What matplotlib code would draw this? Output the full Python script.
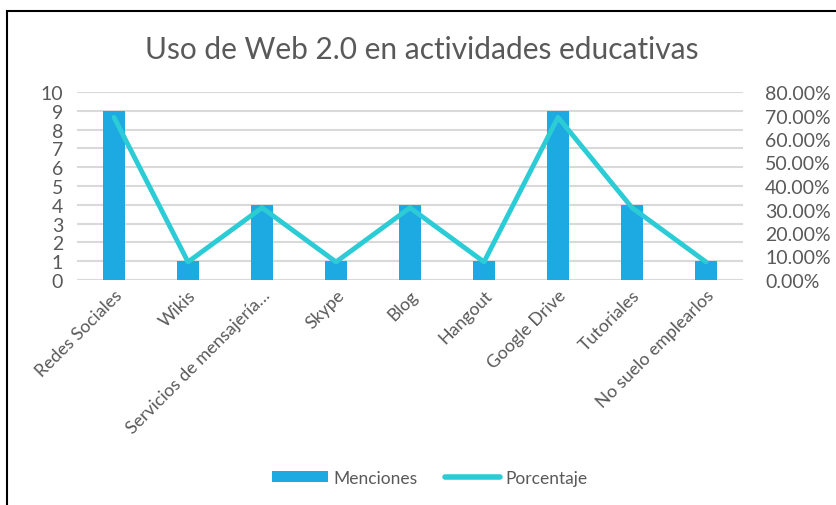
import matplotlib

matplotlib.use("Agg")
import matplotlib.pyplot as plt
from matplotlib.patches import Rectangle, Patch
from matplotlib.lines import Line2D
from matplotlib.ticker import PercentFormatter

categories = ["Redes Sociales", "Wikis", "Servicios de mensajería…", "Skype", "Blog",
              "Hangout", "Google Drive", "Tutoriales", "No suelo emplearlos"]
menciones = [9, 1, 4, 1, 4, 1, 9, 4, 1]
porcentaje = [69.23, 7.69, 30.77, 7.69, 30.77, 7.69, 69.23, 30.77, 7.69]

BAR = "#1DA9E1"
LINE = "#2BCCD6"
TEXT = "#595959"
GRID = "#D9D9D9"

plt.rcParams["font.family"] = ["Lato", "DejaVu Sans"]

W, H = 836, 506
fig = plt.figure(figsize=(W / 100, H / 100), dpi=100)

# outer chart frame (only left/top visible in the crop)
fig.patches.append(Rectangle((7 / W, -0.1), 1.1, 1.1 - 12 / H, transform=fig.transFigure,
                             fill=False, edgecolor="black", linewidth=1.5))

ax = fig.add_axes([77 / W, 1 - 281 / H, (743 - 77) / W, (281 - 93) / H])
x = range(len(categories))
ax.bar(x, menciones, width=0.31, color=BAR, zorder=2)
ax.set_ylim(0, 10)
ax.set_xlim(-0.5, len(categories) - 0.5)
ax.set_yticks(range(0, 11))
ax.yaxis.grid(True, color=GRID, linewidth=1.5, zorder=0)
ax.set_axisbelow(True)
for s in ax.spines.values():
    s.set_visible(False)
ax.tick_params(axis="both", length=0, colors=TEXT, labelsize=14)
ax.tick_params(axis="y", pad=10)
ax.set_xticks(list(x))
ax.set_xticklabels(categories, rotation=45, ha="right", rotation_mode="anchor", fontsize=12.8)
ax.tick_params(axis="x", pad=5)

ax2 = ax.twinx()
ax2.plot(x, porcentaje, color=LINE, linewidth=3.5, solid_capstyle="round", zorder=3)
ax2.set_ylim(0, 80)
ax2.set_yticks(range(0, 81, 10))
ax2.yaxis.set_major_formatter(PercentFormatter(decimals=2))
for s in ax2.spines.values():
    s.set_visible(False)
ax2.tick_params(axis="y", length=0, colors=TEXT, labelsize=14, pad=16)

fig.text(0.505, 1 - 50 / H, "Uso de Web 2.0 en actividades educativas", ha="center", va="center",
         fontsize=21.5, color=TEXT)

handles = [Patch(facecolor=BAR), Line2D([], [], color=LINE, linewidth=4, solid_capstyle="round")]
fig.legend(handles, ["Menciones", "Porcentaje"], loc="center", bbox_to_anchor=(430 / W, 1 - 479 / H),
           ncol=2, frameon=False, fontsize=12.5, labelcolor=TEXT, handlelength=3.2,
           handleheight=0.6, handletextpad=0.3, columnspacing=1.6)

fig.savefig("out.png", dpi=100)
